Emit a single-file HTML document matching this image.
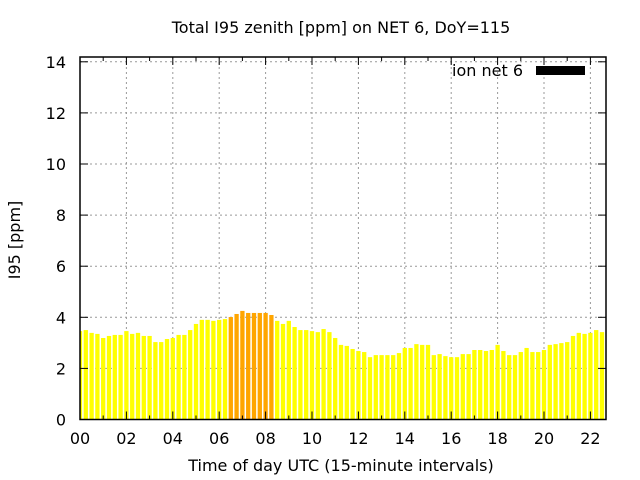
<!DOCTYPE html>
<html><head><meta charset="utf-8"><style>
html,body{margin:0;padding:0;background:#fff}
svg{display:block;font-family:"DejaVu Sans","Liberation Sans",sans-serif}
</style></head><body>
<svg id="chart" width="640" height="480">
<text x="341" y="33" font-size="16" text-anchor="middle">Total I95 zenith [ppm] on NET 6, DoY=115</text>
<text x="341" y="471" font-size="16" text-anchor="middle">Time of day UTC (15-minute intervals)</text>
<text transform="translate(20,240) rotate(-90)" font-size="16" text-anchor="middle">I95 [ppm]</text>
<g id="grid"></g>
<g id="bars"></g>
<g id="axes"></g>
<g>
<text x="523" y="76" font-size="16" text-anchor="end">ion net 6</text>
<rect x="536" y="66" width="49" height="9" fill="#000"></rect>
</g>
</svg>
<script>
const values = [3.46,3.50,3.39,3.35,3.19,3.27,3.31,3.31,3.46,3.35,3.39,3.27,3.27,3.03,3.03,3.15,3.19,3.31,3.31,3.50,3.74,3.90,3.90,3.86,3.90,3.93,4.01,4.13,4.25,4.17,4.17,4.17,4.17,4.09,3.86,3.74,3.86,3.62,3.50,3.50,3.46,3.42,3.54,3.42,3.19,2.92,2.88,2.76,2.68,2.64,2.44,2.52,2.52,2.52,2.52,2.60,2.80,2.80,2.95,2.92,2.92,2.52,2.56,2.48,2.44,2.44,2.56,2.56,2.72,2.72,2.68,2.72,2.92,2.68,2.52,2.52,2.64,2.80,2.64,2.64,2.72,2.92,2.95,2.99,3.03,3.27,3.39,3.35,3.39,3.50,3.42,3.50];
const highlight = [26,27,28,29,30,31,32,33];
const yTicks = [0,2,4,6,8,10,12,14];
const xTickLabels = ["00","02","04","06","08","10","12","14","16","18","20","22"];
const NS="http://www.w3.org/2000/svg";
const L=80,R=606,T=57,B=419.5;
const xs=i=>L+i*5.8;
const ys=v=>B-v*25.55;
const grid=document.getElementById('grid'),bars=document.getElementById('bars'),axes=document.getElementById('axes');
function mk(tag,attrs,parent){const e=document.createElementNS(NS,tag);for(const k in attrs)e.setAttribute(k,attrs[k]);parent.appendChild(e);return e;}
yTicks.forEach(v=>{
  const y=ys(v);
  if(v>0){const g=mk('line',{x1:L,x2:R,y1:y,y2:y,stroke:'#999','stroke-dasharray':'2,3','stroke-width':1},grid);
  
  }
  const t=mk('line',{x1:L,x2:L+8,y1:y,y2:y,stroke:'#000','stroke-width':1},axes);
  
  
  const t2=mk('line',{x1:R-8,x2:R,y1:y,y2:y,stroke:'#000','stroke-width':1},axes);
  
  
  const lb=mk('text',{x:66,y:y+6,'font-size':16,'text-anchor':'end'},axes);
  lb.textContent=v;
  
  
});
xTickLabels.forEach((s,k)=>{
  const x=xs(k*8);
  if(k>0){const g=mk('line',{x1:x,x2:x,y1:T,y2:B,stroke:'#999','stroke-dasharray':'2,3','stroke-width':1},grid);
  
  }
  const lb=mk('text',{x:x,y:444,'font-size':16,'text-anchor':'middle'},axes);
  lb.textContent=s;
  
  
});
for(let h=0;h*4<=90;h++){
  const x=xs(h*4),len=(h%2==0)?8:4;
  const t=mk('line',{x1:x,x2:x,y1:B,y2:B-len,stroke:'#000'},axes);
  
  
  const t2=mk('line',{x1:x,x2:x,y1:T,y2:T+len,stroke:'#000'},axes);
  
  
}
const clip=mk('clipPath',{id:'pc'},document.getElementById('chart'));
mk('rect',{x:L,y:T,width:R-L,height:B-T},clip);
bars.setAttribute('clip-path','url(#pc)');
values.forEach((v,i)=>{
  const x=xs(i),y=ys(v);
  const r=mk('rect',{x:x-2.15,y:y,width:4.3,height:B-y,fill:highlight.includes(i)?'#ffa500':'#ffff00'},bars);
  
  
});
const fr=mk('rect',{x:L,y:T,width:R-L,height:B-T,fill:'none',stroke:'#000','stroke-width':1.5},axes);


</script>
</body></html>
